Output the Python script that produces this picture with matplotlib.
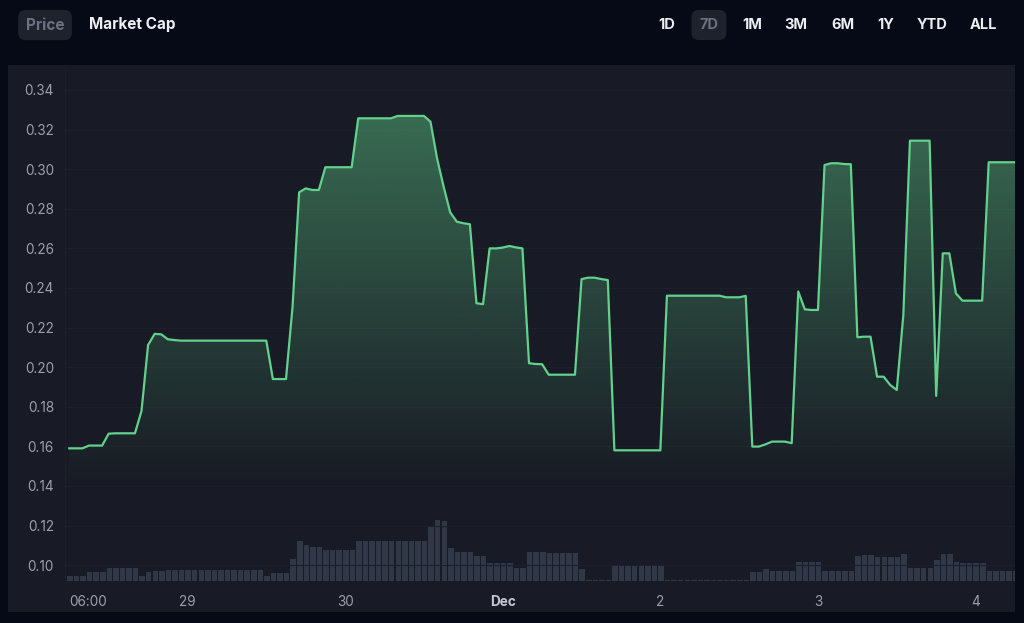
import numpy as np
import matplotlib
matplotlib.use("Agg")
import matplotlib.pyplot as plt
from matplotlib.patches import Rectangle

# hourly samples starting Nov 28 06:00 (x axis is hours since Nov 28 00:00)
start_hour = 6

price = [
    0.1590, 0.1590, 0.1590, 0.1604, 0.1604, 0.1604, 0.1664, 0.1666, 0.1666, 0.1666,
    0.1666, 0.1779, 0.2112, 0.2168, 0.2166, 0.2141, 0.2137, 0.2134, 0.2134, 0.2134,
    0.2134, 0.2134, 0.2134, 0.2134, 0.2134, 0.2134, 0.2134, 0.2134, 0.2134, 0.2134,
    0.2134, 0.1940, 0.1940, 0.1940, 0.2306, 0.2883, 0.2903, 0.2895, 0.2895, 0.3010,
    0.3010, 0.3010, 0.3010, 0.3010, 0.3257, 0.3257, 0.3257, 0.3257, 0.3257, 0.3257,
    0.3269, 0.3269, 0.3269, 0.3269, 0.3269, 0.3240, 0.3055, 0.2912, 0.2782, 0.2735,
    0.2727, 0.2722, 0.2323, 0.2318, 0.2600, 0.2600, 0.2604, 0.2612, 0.2605, 0.2600,
    0.2020, 0.2016, 0.2015, 0.1962, 0.1962, 0.1962, 0.1962, 0.1962, 0.2445, 0.2452,
    0.2452, 0.2445, 0.2440, 0.1580, 0.1580, 0.1580, 0.1580, 0.1580, 0.1580, 0.1580,
    0.1580, 0.2361, 0.2361, 0.2361, 0.2361, 0.2361, 0.2361, 0.2361, 0.2361, 0.2361,
    0.2353, 0.2353, 0.2353, 0.2360, 0.1599, 0.1599, 0.1610, 0.1624, 0.1624, 0.1624,
    0.1616, 0.2382, 0.2292, 0.2289, 0.2289, 0.3021, 0.3030, 0.3030, 0.3026, 0.3025,
    0.2151, 0.2154, 0.2154, 0.1952, 0.1952, 0.1910, 0.1885, 0.2264, 0.3144, 0.3144,
    0.3144, 0.3144, 0.1855, 0.2575, 0.2575, 0.2373, 0.2336, 0.2336, 0.2336, 0.2336,
    0.3035, 0.3035, 0.3035, 0.3035, 0.3035,
]

volume = [
    14, 14, 14, 27, 27, 27, 40, 40, 40, 40,
    40, 15, 27, 30, 30, 33, 33, 33, 33, 33,
    33, 33, 33, 33, 33, 33, 33, 33, 33, 33,
    16, 23, 23, 23, 67, 119, 107, 101, 101, 92,
    92, 92, 92, 92, 120, 120, 120, 120, 120, 120,
    120, 120, 120, 120, 120, 162, 184, 179, 100, 86,
    86, 86, 74, 74, 53, 53, 53, 53, 38, 38,
    87, 87, 87, 85, 85, 85, 85, 85, 36, 4,
    4, 4, 4, 47, 47, 47, 47, 47, 47, 47,
    47, 3, 3, 3, 3, 3, 3, 3, 3, 3,
    3, 3, 3, 3, 26, 26, 35, 30, 30, 30,
    30, 58, 58, 58, 58, 29, 29, 29, 29, 29,
    75, 77, 77, 72, 72, 72, 72, 82, 38, 38,
    38, 38, 62, 82, 82, 58, 55, 55, 55, 55,
    29, 29, 29, 29, 29,
]

x_tick_hours = [6, 24, 48, 72, 96, 120, 144]
x_tick_labels = ["06:00", "29", "30", "Dec", "2", "3", "4"]
y_ticks = [0.10, 0.12, 0.14, 0.16, 0.18, 0.20, 0.22, 0.24, 0.26, 0.28, 0.30, 0.32, 0.34]

left_buttons = ["Price", "Market Cap"]
range_buttons = ["1D", "7D", "1M", "3M", "6M", "1Y", "YTD", "ALL"]
range_x = [667, 709, 752, 796, 843, 886, 932, 983]

W, H = 1024, 623
BG = "#060a16"
PANEL = "#181b25"
LINE = "#62d18b"
BAR = "#303848"
TICK = "#9aa0ab"
GRID = "#1c202b"
FONT = ["Inter", "DejaVu Sans"]

hours = start_hour + np.arange(len(price))

fig = plt.figure(figsize=(W / 100, H / 100), dpi=100, facecolor=BG)
fig.patches.append(Rectangle((8 / W, 1 - 612 / H), 1007 / W, 547 / H,
                             transform=fig.transFigure, facecolor=PANEL,
                             edgecolor="none", zorder=0))

rect = [65 / W, 1 - 581 / H, 950 / W, 511 / H]
xlim = (5.35, 150.0)

# volume bars (own scale, behind the price)
axv = fig.add_axes(rect, zorder=1)
axv.bar(hours + 0.1, volume, width=0.84, color=BAR)
axv.set_xlim(*xlim)
axv.set_ylim(0, 1533)
axv.axis("off")

ax = fig.add_axes(rect, zorder=2)
ax.set_facecolor("none")
ax.set_xlim(*xlim)
ax.set_ylim(0.0920, 0.3501)

# gradient fill under the line
poly = ax.fill_between(hours, price, 0.0920, color="none", lw=0)
grad_lo, grad_hi = 0.14, 0.33
yy = np.linspace(0.0920, 0.3501, 300)
alpha = np.clip((yy - grad_lo) / (grad_hi - grad_lo), 0, 1) * 0.45
rgba = np.zeros((len(yy), 2, 4))
rgba[..., :3] = matplotlib.colors.to_rgb(LINE)
rgba[..., 3] = alpha[:, None]
img = ax.imshow(rgba, extent=[xlim[0], xlim[1], 0.0920, 0.3501], origin="lower",
                aspect="auto", interpolation="bilinear", zorder=1)
img.set_clip_path(poly.get_paths()[0], transform=ax.transData)

ax.plot(hours, price, color=LINE, lw=1.6, zorder=3, solid_joinstyle="round")

ax.set_yticks(y_ticks)
ax.set_yticklabels([f"{v:.2f}" for v in y_ticks])
ax.set_xticks(x_tick_hours)
ax.set_xticklabels(x_tick_labels)
ax.tick_params(length=0, colors=TICK, labelsize=9.8)
ax.tick_params(axis="y", pad=8)
ax.tick_params(axis="x", pad=10)
for lab in ax.get_xticklabels() + ax.get_yticklabels():
    lab.set_family(FONT)
xl = ax.get_xticklabels()
xl[0].set_horizontalalignment("left")
xl[0].set_x(5.35)
xl[3].set_fontweight("bold")
xl[3].set_color("#c4c8d0")

ax.grid(axis="y", color=GRID, lw=0.8)
ax.set_axisbelow(True)
for s in ax.spines.values():
    s.set_visible(False)
ax.axvline(xlim[0], color=GRID, lw=0.8)

# header buttons
def px(x, y):
    return x / W, 1 - y / H

fig.text(*px(45, 25), left_buttons[0], ha="center", va="center", fontsize=11,
         fontweight="bold", color="#6b7180", family=FONT,
         bbox=dict(boxstyle="round,pad=0.5,rounding_size=0.5", fc="#1e222d", ec="none"))
fig.text(*px(89, 25), left_buttons[1], ha="left", va="center", fontsize=11,
         fontweight="bold", color="#eceef2", family=FONT)
for lab, x in zip(range_buttons, range_x):
    if lab == "7D":
        fig.text(*px(x, 25), lab, ha="center", va="center", fontsize=10.5,
                 fontweight="bold", color="#6b7180", family=FONT,
                 bbox=dict(boxstyle="round,pad=0.55,rounding_size=0.5", fc="#1e222d", ec="none"))
    else:
        fig.text(*px(x, 25), lab, ha="center", va="center", fontsize=10.5,
                 fontweight="bold", color="#eceef2", family=FONT)

fig.savefig("out.png", dpi=100, facecolor=BG)
